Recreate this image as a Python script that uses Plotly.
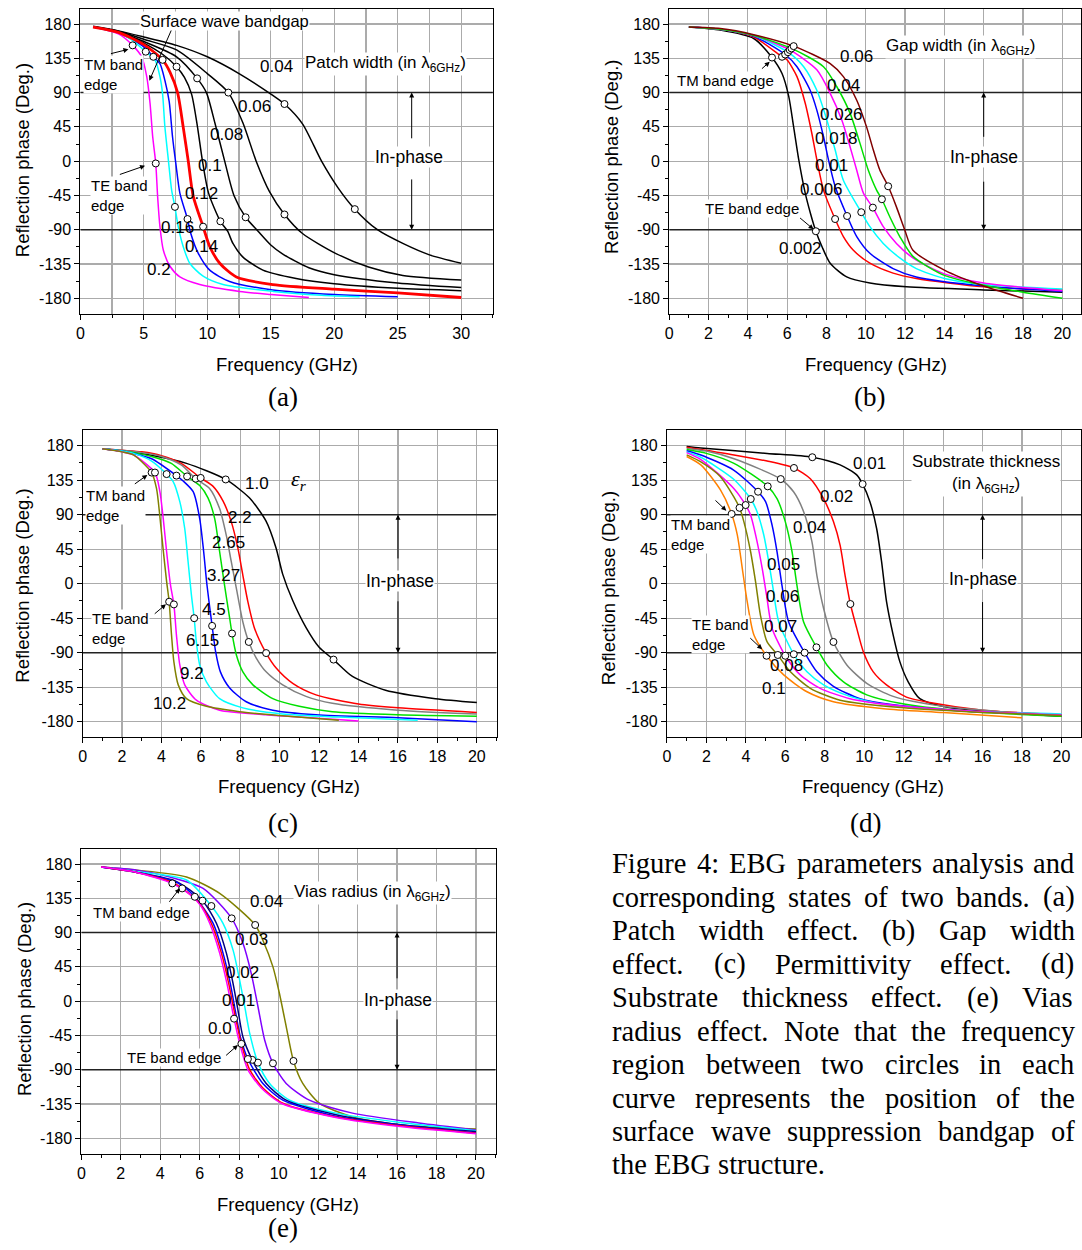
import plotly.graph_objects as go

W, H = 1082, 1250
SANS = "Liberation Sans, Arial, sans-serif"
SERIF = "Liberation Serif, Times New Roman, serif"
GRID = "#ababab"

# ---------------- shared ticks ----------------
y_ticks = [-180, -135, -90, -45, 0, 45, 90, 135, 180]
y_tick_text = ["-180", "-135", "-90", "-45", "0", "45", "90", "135", "180"]
a_x_ticks = [0, 5, 10, 15, 20, 25, 30]
x_ticks_20 = [0, 2, 4, 6, 8, 10, 12, 14, 16, 18, 20]
inphase_bounds = [90, -90]

# ---------------- (a) Patch width ----------------
a_f_004 = [1, 3, 5, 7.58, 10, 12.5, 15.1, 16.08, 17.5, 19, 20.3, 21.62, 23.4, 25.4, 27.5, 30]
a_p_004 = [177, 171, 163, 152, 137, 115, 87, 75, 49, 0, -35, -63, -90, -108, -123, -134]
a_f_006 = [1, 3, 5, 7.58, 10, 11.66, 12.81, 13.85, 14.9, 16.08, 17.5, 20.1, 22.7, 25.4, 30]
a_p_006 = [176.5, 170.5, 160, 146, 115, 90, 50, 0, -40, -70, -95, -121, -139, -150, -156]
a_f_008 = [1, 3, 5, 7.58, 9.2, 9.93, 10.6, 11.37, 12.1, 13.02, 14.0, 15.0, 15.95, 18, 20, 25, 30]
a_p_008 = [176.5, 170, 157, 137, 108.7, 90, 50, 0, -45, -73.7, -92, -110, -122, -140, -149, -160, -166]
a_f_010 = [1, 3, 5, 6.5, 7.58, 8.2, 8.76, 9.2, 9.62, 10.1, 11.03, 11.6, 12.02, 12.81, 14.38, 17, 20, 25, 30]
a_p_010 = [176, 169.5, 155, 140, 124, 110, 88, 48, 0, -42, -79, -92, -108, -126, -143, -154, -161, -167, -170]
a_f_012 = [1, 3, 5, 6.48, 7.06, 7.66, 8.1, 8.5, 8.89, 9.67, 10.19, 10.98, 12.29, 15.16, 20, 25, 30]
a_p_012 = [176, 169, 153, 133, 117, 90, 45, 0, -46, -86, -112, -134, -152, -162, -168, -173, -179]
a_f_014 = [1, 3, 5, 5.75, 6.27, 6.66, 7.0, 7.26, 7.52, 7.84, 8.44, 8.7, 9.29, 10.19, 11.76, 15.16, 20, 25]
a_p_014 = [176, 168.5, 150, 137, 128, 106, 78, 32, -3, -42, -76, -95, -121, -143, -158, -169, -175, -178]
a_f_016 = [1, 3, 4, 5.15, 5.88, 6.27, 6.48, 6.66, 6.93, 7.19, 7.45, 7.71, 8.10, 8.62, 9.67, 11.24, 15.2, 19, 22]
a_p_016 = [176, 168, 160, 143.7, 133, 111, 88, 45, 2, -38, -60, -86, -112, -134, -151, -162, -171, -176, -178]
a_f_020 = [1, 3, 4.12, 4.83, 5.23, 5.49, 5.70, 5.94, 6.09, 6.27, 6.54, 7.06, 7.84, 9.41, 12.55, 15, 18]
a_p_020 = [176, 167, 152, 137, 111, 76, 32, -3, -47, -86, -117, -138, -152, -162, -171, -175, -179]
a_tm_f = [4.12, 5.15, 5.75, 6.48, 7.58, 9.2, 11.66, 16.08]
a_tm_p = [152, 143.7, 137, 133, 124, 108.7, 90, 75]
a_te_f = [5.94, 7.45, 8.44, 9.67, 11.03, 13.02, 16.08, 21.62]
a_te_p = [-3, -60, -76, -86, -79, -73.7, -70, -63]

# ---------------- (b) Gap width ----------------
b_f_0002 = [1, 2.6, 4.3, 5.23, 5.74, 6.08, 6.33, 6.59, 6.92, 7.18, 7.46, 7.77, 8.19, 9.03, 10.21, 12.07, 16, 20]
b_p_0002 = [176, 172, 161, 136, 115, 85, 45, 2, -42, -68, -92, -112, -134, -152, -160, -165, -169, -172]
b_f_0006 = [1, 2.6, 4.3, 5.74, 5.99, 6.5, 6.92, 7.26, 7.51, 7.85, 8.44, 8.86, 9.37, 10.21, 11.39, 12.57, 16, 20]
b_p_0006 = [176, 173, 163, 137, 133, 111, 76, 36, 2, -38, -76, -99, -117, -134, -147, -154, -165, -169]
b_f_001 = [1, 2.6, 4.3, 5.9, 6.5, 7.17, 7.51, 7.85, 8.1, 8.44, 9.05, 9.54, 10.21, 11.39, 12.57, 16, 20]
b_p_001 = [176, 173, 164, 140, 124, 93, 67, 32, 2, -33, -72, -99, -121, -141, -152, -164, -171]
b_f_0018 = [1, 2.6, 4.3, 6.04, 6.84, 7.51, 8.02, 8.44, 8.86, 9.77, 10.21, 10.89, 11.73, 12.57, 14, 16, 20]
b_p_0018 = [176, 173, 165, 143, 124, 93, 54, 15, -25, -67, -86, -108, -127, -141, -154, -162, -168]
b_f_0026 = [1, 2.6, 4.3, 6.13, 7.51, 8.19, 8.78, 9.2, 9.54, 9.88, 10.36, 10.89, 11.56, 12.4, 14, 16, 20]
b_p_0026 = [176, 173, 165, 146, 120, 89, 54, 19, -12, -42, -61, -86, -108, -127, -148, -160, -170]
b_f_004 = [1, 2.6, 4.3, 6.22, 7.85, 8.52, 9.2, 9.71, 10.13, 10.55, 10.82, 11.22, 11.73, 12.4, 14, 16, 18, 20]
b_p_004 = [176, 173, 165, 148, 124, 98, 63, 23, -12, -38, -50, -73, -99, -125, -150, -163, -172, -180]
b_f_006 = [1, 2.6, 4.3, 6.33, 8.19, 8.86, 9.54, 10.04, 10.38, 10.72, 11.14, 11.56, 11.98, 12.4, 14, 16, 18]
b_p_006 = [176, 174, 166, 151, 128, 111, 80, 45, 15, -12, -33, -60, -90, -117, -143, -164, -180]
b_tm_f = [5.23, 5.74, 5.9, 6.04, 6.13, 6.22, 6.33]
b_tm_p = [136, 137, 140, 143, 146, 148, 151]
b_te_f = [7.46, 8.44, 9.05, 9.77, 10.36, 10.82, 11.14]
b_te_p = [-92, -76, -72, -67, -61, -50, -33]

# ---------------- (c) Permittivity ----------------
c_f_102 = [1, 2, 2.58, 3.5, 3.75, 3.91, 4.08, 4.26, 4.39, 4.51, 4.63, 4.85, 5.27, 6.28, 7.96, 9.98, 13]
c_p_102 = [176, 172, 168, 145, 124, 90, 46, 3, -23.5, -67, -102, -132, -150, -160, -167, -172, -178]
c_f_92 = [1, 2, 2.58, 3.67, 3.92, 4.09, 4.26, 4.46, 4.63, 4.76, 4.93, 5.18, 5.77, 6.95, 9.3, 14]
c_p_92 = [176, 172, 168, 145, 120, 85, 42, -2, -27, -67, -106, -132, -152, -165, -171, -179]
c_f_615 = [1, 2, 2.58, 3.5, 4.26, 4.6, 4.93, 5.18, 5.35, 5.52, 5.66, 5.77, 5.94, 6.28, 6.95, 8.13, 10.15, 13, 17]
c_p_615 = [176, 173, 170, 160, 143, 133, 107, 72, 29, -15, -45, -76, -106, -128, -150, -162, -170, -174, -178]
c_f_45 = [1, 2, 2.58, 3.5, 4.76, 5.1, 5.61, 5.94, 6.14, 6.31, 6.57, 6.75, 6.99, 7.46, 8.3, 9.65, 11.84, 16, 20]
c_p_45 = [176, 173, 170, 163, 141, 134, 120, 85, 42, -2, -55, -89, -115, -136, -154, -165, -171, -175, -180]
c_f_327 = [1, 2, 2.58, 3.5, 4.5, 5.3, 5.94, 6.36, 6.7, 6.95, 7.2, 7.46, 7.58, 7.8, 8.13, 8.64, 9.65, 10.99, 12.67, 16, 20]
c_p_327 = [176, 173, 171, 166, 157, 140, 128, 112, 85, 42, -2, -45, -65, -93, -115, -132, -150, -160, -167, -171, -173]
c_f_265 = [1, 2, 3, 4, 5, 5.74, 6.45, 6.95, 7.29, 7.54, 7.8, 8.13, 8.43, 8.81, 9.31, 10.15, 11.33, 12.67, 16, 20]
c_p_265 = [176, 174, 171, 166, 155, 137, 124, 98, 63, 29, -6, -50, -76, -97, -115, -132, -147, -156, -165, -170]
c_f_22 = [1, 2, 3, 4, 5, 5.99, 6.62, 7.12, 7.54, 7.88, 8.13, 8.38, 8.72, 9.31, 9.82, 10.66, 11.84, 14, 16, 20]
c_p_22 = [176, 174, 172, 167, 157, 138, 127, 108, 81, 46, 11, -23, -58, -90.5, -110, -130, -145, -157, -162, -168]
c_f_10 = [1, 2, 3.6, 5.27, 7.26, 8.46, 9.3, 9.81, 10.15, 10.66, 11.33, 12.0, 12.73, 13.69, 15.37, 17.9, 20]
c_p_10 = [176, 173, 167, 157, 136, 112, 82, 47, 12.5, -22, -57, -83, -99, -121, -139, -150, -155]
c_tm_f = [3.5, 3.67, 4.26, 4.76, 5.3, 5.74, 5.99, 7.26]
c_tm_p = [145, 145, 143, 141, 140, 137, 138, 136]
c_te_f = [4.39, 4.63, 5.66, 6.57, 7.58, 8.43, 9.31, 12.73]
c_te_p = [-23.5, -27, -45, -55, -65, -76, -90.5, -99]

# ---------------- (d) Substrate thickness ----------------
d_f_001 = [1, 1.72, 5.08, 7.37, 8.78, 9.62, 9.92, 10.29, 10.63, 10.88, 11.13, 11.47, 11.81, 12.23, 12.82, 14.16, 17, 20]
d_p_001 = [179, 177, 170, 165, 155, 142, 130, 107, 72, 29, -23, -67, -102, -128, -150, -161, -168, -173]
d_f_002 = [1, 3.4, 5.08, 6.44, 7.27, 7.94, 8.44, 8.78, 9.03, 9.3, 9.62, 9.96, 10.46, 11.13, 12.14, 13.32, 16, 20]
d_p_002 = [178, 168, 160, 151, 137, 111, 81, 50, 11, -26.5, -58, -89, -115, -132, -148, -155, -165, -171]
d_f_004 = [1, 2, 3.4, 5.77, 6.42, 6.93, 7.35, 7.6, 7.94, 8.44, 9.12, 10.13, 11.47, 14, 17, 20]
d_p_004 = [176.5, 173, 163, 136.5, 120, 94, 55, 11, -32, -76, -106, -130, -147, -160, -167, -172]
d_f_005 = [1, 2, 3.4, 5.11, 5.58, 6.0, 6.34, 6.59, 6.93, 7.58, 8.11, 8.95, 10.13, 11.81, 15, 20]
d_p_005 = [175, 170, 157, 127, 111, 81, 42, -2, -50, -83, -106, -128, -145, -156, -166, -173]
d_f_006 = [1, 1.72, 3.4, 4.62, 5.0, 5.33, 5.58, 5.83, 6.17, 6.98, 7.6, 8.44, 9.79, 11.47, 15, 20]
d_p_006 = [173.5, 168, 148, 120, 107, 76.5, 42, -2, -50, -90, -115, -134, -150, -158, -166, -171]
d_f_007 = [1, 1.72, 3.4, 4.25, 4.57, 4.91, 5.16, 5.38, 5.67, 6.43, 7.1, 7.94, 9.28, 11.13, 15, 20]
d_p_007 = [172, 165, 136, 110.5, 94, 63.5, 29, -6, -50, -92, -115, -132, -147, -158, -166, -170]
d_f_008 = [1, 1.72, 3.4, 3.99, 4.24, 4.57, 4.83, 5.05, 5.33, 6.0, 6.76, 7.77, 9.28, 12, 16, 20]
d_p_008 = [171, 162, 124, 102.6, 89.6, 55, 20, -15, -58, -94, -119, -136.5, -150, -160, -167, -171]
d_f_009 = [1, 1.72, 2.7, 3.4, 3.68, 3.9, 4.24, 4.49, 4.74, 5.08, 5.62, 6.26, 7.27, 8.78, 12, 16, 20]
d_p_009 = [168, 159, 140, 113, 99, 81, 42, 3, -41, -76, -93, -115, -136.5, -152, -162, -168, -172]
d_f_010 = [1, 1.72, 2.72, 3.28, 3.57, 3.82, 4.07, 4.41, 5.05, 5.92, 7.1, 8.44, 11, 14, 18]
d_p_010 = [166, 155, 122, 91, 63.5, 20, -23.5, -67, -94, -119, -141, -154, -163, -168, -175]
d_tm_f = [7.37, 6.44, 5.77, 5.11, 4.62, 4.25, 3.99, 3.68, 3.28]
d_tm_p = [165, 151, 136.5, 127, 120, 110.5, 102.6, 99, 91]
d_te_f = [9.92, 9.3, 8.44, 7.58, 6.98, 6.43, 6.0, 5.62, 5.05]
d_te_p = [130, -26.5, -76, -83, -90, -92, -94, -93, -94]

# ---------------- (e) Vias radius ----------------
e_f_004 = [1, 2.81, 5.33, 7.01, 8.81, 9.2, 9.71, 10.04, 10.38, 10.75, 11.22, 12.06, 13.74, 16.27, 20]
e_p_004 = [176, 172, 163, 141.5, 100, 80, 45, 10, -33, -78.5, -108, -134, -152, -162.5, -168]
e_f_003 = [1, 2.81, 4.49, 6.17, 7.62, 8.19, 8.61, 8.95, 9.29, 9.71, 10.38, 11.56, 13.74, 17.1, 20]
e_p_003 = [176, 172, 163, 148, 108.7, 76, 36.5, -7, -51, -81.6, -108, -130, -147, -160, -169]
e_f_002 = [1, 2.81, 5.33, 6.59, 7.18, 7.69, 8.02, 8.28, 8.53, 8.95, 9.54, 10.55, 12.9, 16.27, 20]
e_p_002 = [176, 170, 159, 124.9, 102, 67, 28, -7, -42, -80.7, -108, -130, -147, -159.5, -170]
e_f_001 = [1, 2.81, 4.83, 6.14, 6.85, 7.35, 7.69, 7.94, 8.19, 8.66, 9.37, 10.38, 12.9, 16.27, 20]
e_p_001 = [176, 169, 157, 131.9, 102, 63, 23, -12, -47, -77, -108, -130, -149, -162.5, -171]
e_f_blue = [1, 2.81, 4.83, 5.75, 6.68, 7.18, 7.55, 7.8, 8.06, 8.44, 9.2, 10.21, 12.9, 16.27, 20]
e_p_blue = [176, 169, 156, 137, 102, 63, 23, -12, -47, -76, -108, -130, -151, -163, -173]
e_f_red = [1, 2.81, 4.5, 5.11, 6.0, 6.59, 7.1, 7.47, 7.74, 8.11, 8.53, 9.2, 10.21, 12.9, 16.27, 20]
e_p_red = [176, 169, 157, 148, 128, 102, 63, 23, -12, -56, -90, -114, -134, -152, -164, -173.5]
e_f_mag = [1, 2.81, 4.61, 5.5, 6.0, 6.51, 7.01, 7.38, 7.74, 8.02, 8.44, 9.12, 10.13, 12.9, 16.27, 20]
e_p_mag = [176, 169, 154.6, 140, 127, 102, 63, 23, -23, -55, -90, -114, -134, -152.6, -165, -174]
e_tm_f = [8.81, 7.62, 6.59, 6.14, 5.75, 5.11, 4.61]
e_tm_p = [100, 108.7, 124.9, 131.9, 137, 148, 154.6]
e_te_f = [10.75, 9.71, 8.95, 8.66, 8.44, 8.11, 7.74]
e_te_p = [-78.5, -81.6, -80.7, -77, -76, -56, -23]

# ---------------- series tables ----------------
panels_series = {
    1: [(a_f_004, a_p_004, "#000000", 1.5), (a_f_006, a_p_006, "#000000", 1.5),
        (a_f_008, a_p_008, "#000000", 1.5), (a_f_010, a_p_010, "#000000", 1.5),
        (a_f_014, a_p_014, "#0000FF", 1.5), (a_f_016, a_p_016, "#00FFFF", 1.5),
        (a_f_020, a_p_020, "#FF00FF", 1.5), (a_f_012, a_p_012, "#FF0000", 2.8)],
    2: [(b_f_0002, b_p_0002, "#000000", 1.5), (b_f_0006, b_p_0006, "#FF0000", 1.5),
        (b_f_001, b_p_001, "#0000FF", 1.5), (b_f_0018, b_p_0018, "#00FFFF", 1.5),
        (b_f_0026, b_p_0026, "#FF00FF", 1.5), (b_f_004, b_p_004, "#00E000", 1.5),
        (b_f_006, b_p_006, "#800000", 1.5)],
    3: [(c_f_10, c_p_10, "#000000", 1.5), (c_f_22, c_p_22, "#FF0000", 1.5),
        (c_f_265, c_p_265, "#808080", 1.5), (c_f_327, c_p_327, "#00E000", 1.5),
        (c_f_45, c_p_45, "#0000FF", 1.5), (c_f_615, c_p_615, "#00FFFF", 1.5),
        (c_f_92, c_p_92, "#FF00FF", 1.5), (c_f_102, c_p_102, "#808000", 1.5)],
    4: [(d_f_001, d_p_001, "#000000", 1.5), (d_f_002, d_p_002, "#FF0000", 1.5),
        (d_f_004, d_p_004, "#808080", 1.5), (d_f_005, d_p_005, "#00E000", 1.5),
        (d_f_006, d_p_006, "#0000FF", 1.5), (d_f_007, d_p_007, "#00FFFF", 1.5),
        (d_f_008, d_p_008, "#FF00FF", 1.5), (d_f_009, d_p_009, "#808000", 1.5),
        (d_f_010, d_p_010, "#FF8000", 1.5)],
    5: [(e_f_004, e_p_004, "#808000", 1.5), (e_f_003, e_p_003, "#8000FF", 1.5),
        (e_f_002, e_p_002, "#00FFFF", 1.5), (e_f_001, e_p_001, "#000080", 1.5),
        (e_f_blue, e_p_blue, "#0000FF", 1.5), (e_f_red, e_p_red, "#FF0000", 1.5),
        (e_f_mag, e_p_mag, "#FF00FF", 1.5)],
}
panels_circles = {
    1: (a_tm_f + a_te_f, a_tm_p + a_te_p),
    2: (b_tm_f + b_te_f, b_tm_p + b_te_p),
    3: (c_tm_f + c_te_f, c_tm_p + c_te_p),
    4: (d_tm_f + d_te_f, d_tm_p + d_te_p),
    5: (e_tm_f + e_te_f, e_tm_p + e_te_p),
}

# ---------------- geometry (pixels) ----------------
geom = {
    1: dict(x=(76.7, 491.2), y=(8.8, 313.5), xr=[0, 32.5], xt=a_x_ticks, xm=2.5, mgrid=True),
    2: dict(x=(668.3, 1082), y=(8.8, 313.5), xr=[0, 20.95], xt=x_ticks_20, xm=1, mgrid=False),
    3: dict(x=(79, 494.8), y=(430.4, 737.0), xr=[0, 21], xt=x_ticks_20, xm=1, mgrid=False),
    4: dict(x=(666, 1082), y=(430.4, 737.0), xr=[0, 20.99], xt=x_ticks_20, xm=1, mgrid=False),
    5: dict(x=(77.7, 494), y=(848.8, 1153.5), xr=[0, 21], xt=x_ticks_20, xm=1, mgrid=False),
}

def ref(i):
    return ("x", "y") if i == 1 else (f"x{i}", f"y{i}")

fig = go.Figure()
layout = dict(width=W, height=H, margin=dict(l=0, r=0, t=0, b=0),
              paper_bgcolor="white", plot_bgcolor="white", showlegend=False)
anns = []
tickfont = dict(family=SANS, size=16, color="black")

for i, g in geom.items():
    xr_, yr_ = ref(i)
    xname = "xaxis" if i == 1 else f"xaxis{i}"
    yname = "yaxis" if i == 1 else f"yaxis{i}"
    layout[xname] = dict(
        domain=[g["x"][0] / W, min(g["x"][1] / W, 1.0)], range=g["xr"], anchor=yr_,
        tickmode="array", tickvals=g["xt"], ticks="outside", ticklen=5, tickwidth=1,
        tickcolor="black", showline=True, linecolor="black", linewidth=1, mirror=True,
        showgrid=True, gridcolor=GRID, gridwidth=1.2, zeroline=False, tickfont=tickfont,
        minor=dict(tickmode="linear", tick0=0, dtick=g["xm"], ticks="outside", ticklen=3,
                   tickwidth=1, tickcolor="black", showgrid=g["mgrid"], gridcolor=GRID, gridwidth=1.2),
    )
    layout[yname] = dict(
        domain=[1 - g["y"][1] / H, 1 - g["y"][0] / H], range=[-200, 200], anchor=xr_,
        tickmode="array", tickvals=y_ticks, ticktext=y_tick_text, ticks="outside", ticklen=5,
        tickwidth=1, tickcolor="black", showline=True, linecolor="black", linewidth=1, mirror=True,
        showgrid=True, gridcolor=GRID, gridwidth=1.2, zeroline=False, tickfont=tickfont,
        minor=dict(tickmode="linear", tick0=0, dtick=22.5, ticks="outside", ticklen=3,
                   tickwidth=1, tickcolor="black", showgrid=False),
    )
    # the two in-phase boundary lines (+90 / -90), across the full axis range
    for yv in inphase_bounds:
        fig.add_trace(go.Scatter(x=g["xr"], y=[yv, yv], mode="lines", xaxis=xr_, yaxis=yr_,
                                 hoverinfo="skip", line=dict(color="#222222", width=1.5)))
    for fx, py, col, lw in panels_series[i]:
        fig.add_trace(go.Scatter(x=fx, y=py, mode="lines", xaxis=xr_, yaxis=yr_, hoverinfo="skip",
                                 line=dict(color=col, width=lw, shape="spline", smoothing=0.7)))
    cx, cy = panels_circles[i]
    fig.add_trace(go.Scatter(x=cx, y=cy, mode="markers", xaxis=xr_, yaxis=yr_, hoverinfo="skip",
                             marker=dict(symbol="circle", size=7, color="white",
                                         line=dict(color="black", width=1))))

# ---------------- annotations ----------------
def T(px, py, s, size=17, xanchor="center", family=SANS, bg=None, angle=0, align="center"):
    d = dict(x=px / W, y=1 - py / H, xref="paper", yref="paper", text=s, showarrow=False,
             xanchor=xanchor, yanchor="middle", align=align, textangle=angle,
             font=dict(family=family, size=size, color="black"))
    if bg:
        d.update(bgcolor=bg, borderpad=0)
    return d

def A(hx, hy, tx, ty):
    return dict(x=hx / W, y=1 - hy / H, xref="paper", yref="paper", ax=tx - hx, ay=ty - hy,
                text="", showarrow=True, arrowhead=2,
                arrowsize=1, arrowwidth=1, arrowcolor="black", standoff=0)

def inphase(i, xa, xt, yt, top_gap, bot_gap):
    xr_, yr_ = ref(i)
    out = [dict(x=xt, y=yt, xref=xr_, yref=yr_, text="In-phase", showarrow=False,
                xanchor="center", yanchor="middle", bgcolor="white", borderpad=0,
                font=dict(family=SANS, size=17.5, color="black"))]
    for yh, yt_ in ((inphase_bounds[0], top_gap), (inphase_bounds[1], bot_gap)):
        out.append(dict(x=xa, y=yh, xref=xr_, yref=yr_, ax=xa, ay=yt_, axref=xr_, ayref=yr_,
                        text="", showarrow=True, arrowhead=2, arrowsize=1, arrowwidth=1,
                        arrowcolor="black", standoff=0))
    return out

L6 = "λ<sub>6GHz</sub>"

# axis titles and panel letters
for (tx, ty), (yx, yy), (lx, ly), letter in [
    ((284, 364), (18.3, 160), (280, 396.7), "(a)"),
    ((876, 364), (610.7, 157), (870, 396.7), "(b)"),
    ((286.7, 786.7), (19, 585.8), (280, 823.3), "(c)"),
    ((873.3, 786.7), (606.7, 588.3), (866, 823.3), "(d)"),
    ((285.7, 1204), (20, 999.2), (280, 1228.3), "(e)"),
]:
    anns.append(T(tx, ty, "Frequency (GHz)", size=18.5))
    anns.append(T(yx, yy, "Reflection phase (Deg.)", size=18.5, angle=-90))
    anns.append(T(lx, ly, letter, size=27, family=SERIF))

# (a)
anns += [
    T(221.7, 20.7, "Surface wave bandgap", size=16.5, bg="white"),
    A(146, 80.7, 168.5, 29),
    T(79, 74, "TM band<br>edge", size=15, xanchor="left", align="left", bg="white"),
    A(125, 49.3, 106, 54),
    T(86.7, 195, "TE band<br>edge", size=15, xanchor="left", align="left", bg="white"),
    A(141.7, 165.7, 115, 175),
    T(301.7, 64.3, f"Patch width (in {L6})", size=17, xanchor="left", bg="white"),
]
for s, px, py in [("0.04", 273.3, 66.7), ("0.06", 251.7, 106.7), ("0.08", 224, 134.3),
                  ("0.1", 206.7, 165.7), ("0.12", 198.3, 193.3), ("0.16", 174, 227.7),
                  ("0.14", 198.3, 246.7), ("0.2", 156, 269.3)]:
    anns.append(T(px, py, s))
anns += inphase(1, 26.1, 25.9, 5.9, 28, -22)

# (b)
anns += [
    T(885, 47, f"Gap width (in {L6})", size=17, xanchor="left", bg="white"),
    T(675, 80, "TM band edge", size=15, xanchor="left", bg="white"),
    A(769.3, 61.7, 760, 70),
    T(703, 208, "TE band edge", size=15, xanchor="left", bg="white"),
    A(813.3, 229.3, 798.3, 216.7),
]
for s, px, py in [("0.06", 856.7, 56.7), ("0.04", 843.3, 86), ("0.026", 841.7, 115),
                  ("0.018", 836.7, 138.3), ("0.01", 831.7, 165), ("0.006", 821.7, 189.3),
                  ("0.002", 800, 248.3)]:
    anns.append(T(px, py, s))
anns += inphase(2, 16, 16, 5.9, 30, -25)

# (c)
anns += [
    T(81.7, 505.8, "TM band<br>edge", size=15, xanchor="left", align="left", bg="white"),
    A(144, 475, 130, 485),
    T(87.7, 628.7, "TE band<br>edge", size=15, xanchor="left", align="left", bg="white"),
    A(162.7, 604.3, 150, 615),
    T(296.7, 480, "<i>ε<sub>r</sub></i>", size=22, family=SERIF),
]
for s, px, py in [("1.0", 254, 483.3), ("2.2", 237.3, 517.3), ("2.65", 226, 542.3),
                  ("3.27", 220.7, 575.7), ("4.5", 210.7, 609), ("6.15", 199, 640),
                  ("9.2", 189, 673.3), ("10.2", 166, 703.3)]:
    anns.append(T(px, py, s))
anns += inphase(3, 16, 16.1, 3.5, 31, -21)

# (d)
anns += [
    T(986.7, 474, f"Substrate thickness<br>(in {L6})", size=17, bg="white"),
    T(669.3, 535, "TM band<br>edge", size=15, xanchor="left", align="left", bg="white"),
    A(725.7, 510.7, 713.3, 499),
    T(690, 634.5, "TE band<br>edge", size=15, xanchor="left", align="left", bg="white"),
    A(761.7, 649.3, 748.3, 636.7),
]
for s, px, py in [("0.01", 870, 463.3), ("0.02", 836.7, 496.7), ("0.04", 809.3, 527.3),
                  ("0.05", 783.3, 564.3), ("0.06", 781.7, 596), ("0.07", 780, 626),
                  ("0.08", 785.7, 665), ("0.1", 774, 688.3)]:
    anns.append(T(px, py, s))
anns += inphase(4, 16, 16, 5.9, 30, -22)

# (e)
anns += [
    T(290, 892.7, f"Vias radius (in {L6})", size=17, xanchor="left", bg="white"),
    T(138.3, 912.7, "TM band edge", size=15, bg="white"),
    A(176.7, 888.3, 165, 903.3),
    T(170.7, 1057.3, "TE band edge", size=15, bg="white"),
    A(235, 1045, 221.7, 1056.7),
]
for s, px, py in [("0.04", 263.3, 901), ("0.03", 248.3, 939.3), ("0.02", 240, 972.7),
                  ("0.01", 235.7, 1000), ("0.0", 216.7, 1028.3)]:
    anns.append(T(px, py, s))
anns += inphase(5, 16, 16.06, 1.6, 28, -22)

# ---------------- caption (justified like the original) ----------------
caption_lines = [
    "Figure 4: EBG parameters analysis and",
    "corresponding states of two bands. (a)",
    "Patch width effect. (b) Gap width",
    "effect. (c) Permittivity effect. (d)",
    "Substrate thickness effect. (e) Vias",
    "radius effect. Note that the frequency",
    "region between two circles in each",
    "curve represents the position of the",
    "surface wave suppression bandgap of",
    "the EBG structure.",
]
# Times / Liberation Serif advance widths (per 1000 em), used to justify the lines
TW = {" ": 250, "(": 333, ")": 333, ".": 250, ":": 278, "4": 500,
      "B": 667, "E": 611, "F": 556, "G": 722, "N": 722, "P": 556, "S": 556, "V": 722,
      "a": 444, "b": 500, "c": 444, "d": 500, "e": 444, "f": 333, "g": 500, "h": 500,
      "i": 278, "k": 500, "l": 278, "m": 778, "n": 500, "o": 500, "p": 500, "q": 500,
      "r": 333, "s": 389, "t": 278, "u": 500, "v": 500, "w": 722, "y": 500}
CAP_FS = 28.5
CAP_L, CAP_R = 609.3, 1073.3

def wwidth(w):
    return sum(TW.get(ch, 500) for ch in w) / 1000 * CAP_FS

for k, line in enumerate(caption_lines):
    py = 873.5 - 9.6 + 33.45 * k
    if k == len(caption_lines) - 1:
        anns.append(T(CAP_L, py, line, size=CAP_FS, family=SERIF, xanchor="left"))
        continue
    words = line.split(" ")
    widths = [wwidth(w) for w in words]
    gap = (CAP_R - CAP_L - sum(widths)) / (len(words) - 1)
    x = CAP_L
    for w, wd in zip(words, widths):
        anns.append(T(x, py, w, size=CAP_FS, family=SERIF, xanchor="left"))
        x += wd + gap

layout["annotations"] = anns
fig.update_layout(**layout)
fig.write_html("out.html", config={"displayModeBar": False, "staticPlot": True},
               post_script="document.body.style.margin='0px';")
